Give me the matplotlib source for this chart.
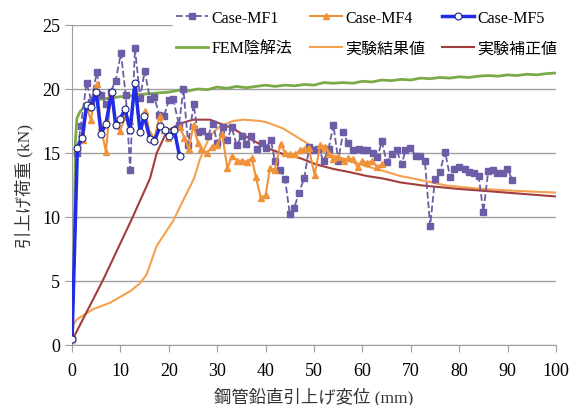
import numpy as np
import matplotlib
matplotlib.use('Agg')
import matplotlib.pyplot as plt

plt.rcParams['font.family'] = ['Liberation Serif', 'Noto Sans CJK JP', 'DejaVu Sans']

# Case-MF1 (purple, dashed, squares)
mf1_x = [0, 1.0, 1.8, 3.0, 4.0, 5.1, 6.0, 7.0, 8.0, 9.0, 10.1, 11.1, 12.0, 13.0, 14.05, 15.0,
         16.1, 17.0, 18.0, 19.0, 20.0, 20.9, 22.1, 23.0, 24.0, 25.1, 26.0, 26.9, 28.0, 29.1,
         30.0, 31.1, 32.0, 33.0, 34.0, 35.1, 36.0, 37.0, 38.2, 39.2, 40.0, 41.1, 41.9, 43.0,
         44.0, 45.0, 45.9, 46.9, 48.0, 49.0, 50.0, 50.9, 52.0, 53.0, 54.0, 55.0, 56.0, 57.0,
         58.1, 59.2, 60.1, 61.0, 62.1, 63.1, 64.0, 65.0, 66.1, 67.1, 68.1, 68.9, 69.9, 71.0,
         72.0, 72.9, 74.0, 75.0, 76.0, 77.1, 78.1, 79.0, 80.0, 81.1, 82.1, 83.1, 84.0, 85.0,
         86.0, 86.9, 87.9, 89.0, 89.9, 91.0]
mf1_y = [0.5, 15.0, 17.1, 20.5, 19.0, 21.3, 19.5, 18.8, 19.8, 20.65, 22.8, 19.5, 13.7, 23.2, 19.3, 21.4,
         19.25, 19.35, 18.0, 17.9, 19.1, 19.2, 17.2, 20.0, 15.65, 18.8, 16.6, 16.7, 16.3, 17.25,
         15.8, 17.0, 16.0, 17.0, 15.6, 16.35, 15.7, 16.3, 15.3, 15.8, 15.4, 16.0, 14.4, 13.7,
         13.0, 10.2, 10.7, 11.9, 13.05, 15.45, 15.2, 15.3, 14.4, 15.3, 17.2, 14.4, 16.6, 15.8,
         15.2, 15.3, 15.25, 15.2, 15.0, 14.65, 15.9, 14.3, 14.9, 15.2, 14.1, 15.2, 15.4, 14.8,
         14.8, 14.4, 9.3, 13.0, 13.5, 15.1, 13.1, 13.75, 13.9, 13.75, 13.5, 13.4, 13.2, 10.4,
         13.6, 13.7, 13.4, 13.4, 13.75, 12.9]

# Case-MF4 (orange, triangles)
mf4_x = [0, 1.1, 2.3, 3.0, 3.9, 5.1, 6.0, 7.0, 8.0, 9.0, 9.9, 11.0, 12.0, 13.0, 14.0, 15.1,
         16.1, 17.0, 18.1, 19.0, 19.9, 21.0, 22.3, 23.2, 24.1, 25.1, 26.0, 26.7, 27.8, 29.0,
         30.0, 31.0, 32.1, 33.1, 34.1, 35.1, 36.1, 37.1, 38.0, 39.0, 40.0, 40.9, 41.9, 43.1,
         44.0, 45.0, 46.1, 47.1, 48.0, 48.9, 50.1, 51.3, 52.3, 53.1, 54.0, 55.0, 56.1, 57.1,
         58.0, 59.0, 60.0, 61.0, 62.0, 63.0, 64.0]
mf4_y = [0.5, 15.4, 16.0, 18.5, 17.6, 20.4, 17.0, 15.05, 19.6, 17.3, 16.7, 17.8, 17.5, 19.8, 16.8, 18.3,
         16.5, 16.1, 17.9, 16.8, 16.2, 16.5, 17.0, 16.2, 15.3, 17.2, 15.8, 15.3, 15.0, 15.5,
         15.6, 16.5, 13.8, 14.8, 14.4, 14.4, 14.3, 14.6, 13.1, 11.5, 11.7, 13.8, 13.7, 15.7,
         15.0, 14.9, 14.9, 15.2, 15.3, 15.4, 13.3, 15.6, 15.5, 14.9, 14.5, 14.7, 14.4, 14.6,
         14.5, 13.9, 14.4, 14.2, 14.4, 13.9, 14.1]

# Case-MF5 (blue, circles)
mf5_x = [0, 1.1, 2.1, 3.0, 4.0, 5.0, 6.0, 7.0, 8.2, 9.0, 9.9, 10.95, 12.0, 13.0, 14.05, 14.9,
         16.1, 17.0, 18.2, 19.2, 20.0, 21.1, 22.2]
mf5_y = [0.5, 15.4, 16.2, 18.75, 18.6, 19.8, 16.5, 17.3, 19.8, 17.2, 17.65, 18.4, 16.8, 20.5, 16.6, 17.9,
         16.1, 15.9, 17.1, 16.8, 16.3, 16.8, 14.8]

# FEM陰解法
fem_x = [0, 0.5, 0.7, 1.0, 1.6, 2.7, 4.4, 6, 8, 10, 12.7, 15, 18, 20, 22, 24, 26, 28, 30, 32,
         34, 36, 38, 40, 42, 44, 46, 48, 50, 52, 54, 56, 58, 60, 62, 64, 66, 68, 70, 72, 74,
         76, 78, 80, 82, 84, 86, 88, 90, 92, 94, 96, 98, 100]
fem_y = [0, 10, 16, 17.7, 18.2, 18.7, 19.1, 19.2, 19.3, 19.4, 19.5, 19.6, 19.7, 19.75, 19.9, 19.85,
         20.0, 19.95, 20.15, 20.05, 20.2, 20.1, 20.2, 20.3, 20.2, 20.3, 20.25, 20.35, 20.3, 20.5,
         20.45, 20.5, 20.45, 20.6, 20.55, 20.7, 20.65, 20.75, 20.7, 20.85, 20.8, 20.9, 20.85,
         20.95, 20.9, 21.0, 21.05, 21.0, 21.1, 21.05, 21.15, 21.1, 21.2, 21.25]

# 実験結果値
exp_x = [0, 0.3, 1, 4.4, 7.9, 12, 14, 15.4, 17.5, 20.9, 22.7, 25.2, 26.4, 28.5, 30.6, 33.3,
         35.5, 38.8, 40.2, 43.7, 47.1, 50.5, 54, 57.4, 60.9, 64.3, 67.8, 70.5, 77.4, 84.3, 91.2, 100]
exp_y = [0.5, 1.6, 2.0, 2.8, 3.3, 4.2, 4.8, 5.5, 7.75, 9.7, 11.1, 13.0, 14.5, 16.35, 17.1, 17.5,
         17.6, 17.5, 17.4, 16.9, 16.1, 15.3, 14.8, 14.4, 13.95, 13.6, 13.2, 13.0, 12.45, 12.2, 12.05, 11.9]

# 実験補正値
cor_x = [0, 6.5, 12.3, 16.1, 17.5, 19.6, 22.3, 25.1, 28.5, 33.3, 36.8, 40.2, 43.7, 47.1, 50.5,
         54, 57.4, 60.9, 64.3, 67.8, 72.6, 79.5, 86.4, 100]
cor_y = [0.35, 5.15, 9.8, 13.0, 15.0, 16.7, 17.3, 17.6, 17.6, 16.9, 16.1, 15.4, 14.9, 14.6, 14.1,
         13.75, 13.5, 13.2, 13.0, 12.7, 12.45, 12.2, 12.0, 11.6]

fig = plt.figure(figsize=(5.72, 4.06), dpi=100)
ax = fig.add_axes([0.126, 0.148, 0.846, 0.788])

ax.plot(fem_x, fem_y, color='#7aab48', lw=2, label='FEM陰解法', zorder=2)
ax.plot(exp_x, exp_y, color='#f5a04e', lw=1.5, label='実験結果値', zorder=2)
ax.plot(cor_x, cor_y, color='#a23e3c', lw=1.5, label='実験補正値', zorder=2)
ax.plot(mf1_x, mf1_y, color='#6d5ca6', lw=1.3, ls='--', marker='s', ms=4,
        label='Case-MF1', zorder=3)
ax.plot(mf4_x, mf4_y, color='#f0923a', lw=1.5, marker='^', ms=4.5,
        label='Case-MF4', zorder=4)
ax.plot(mf5_x, mf5_y, color='#1f2ee6', lw=2.5, marker='o', ms=5, mfc='white',
        mec='#1a237e', mew=0.8, label='Case-MF5', zorder=5)

ax.set_xlim(0, 100)
ax.set_ylim(0, 25)
ax.set_xticks(np.arange(0, 101, 10))
ax.set_yticks(np.arange(0, 26, 5))
ax.grid(axis='y', color='#a0a0a0', lw=1)
ax.set_axisbelow(True)
for s in ['top', 'right']:
    ax.spines[s].set_visible(False)
for s in ['left', 'bottom']:
    ax.spines[s].set_color('#a0a0a0')
ax.tick_params(colors='#a0a0a0', labelcolor='black', labelsize=13, length=5)
ax.tick_params(axis='x', pad=7)

ax.set_xlabel('鋼管鉛直引上げ変位 (mm)', fontsize=12.5, color='#333333', labelpad=6)
ax.set_ylabel('引上げ荷重 (kN)', fontsize=12.5, color='#333333', labelpad=6)

# legend filled row by row: MF1, MF4, MF5 / FEM, 結果, 補正
h, l = ax.get_legend_handles_labels()
order = [3, 0, 4, 1, 5, 2]
leg = ax.legend([h[i] for i in order], [l[i] for i in order], ncol=3,
                loc='lower right', bbox_to_anchor=(1.01, 0.89), frameon=True,
                fontsize=11.5, handlelength=2.0, columnspacing=1.1, handletextpad=0.2,
                labelspacing=0.95, borderaxespad=0, borderpad=0.2)
leg.get_frame().set_edgecolor('white')
leg.get_frame().set_facecolor('white')
leg.get_frame().set_alpha(1)
leg.set_zorder(10)

fig.savefig('out.png', dpi=100)
